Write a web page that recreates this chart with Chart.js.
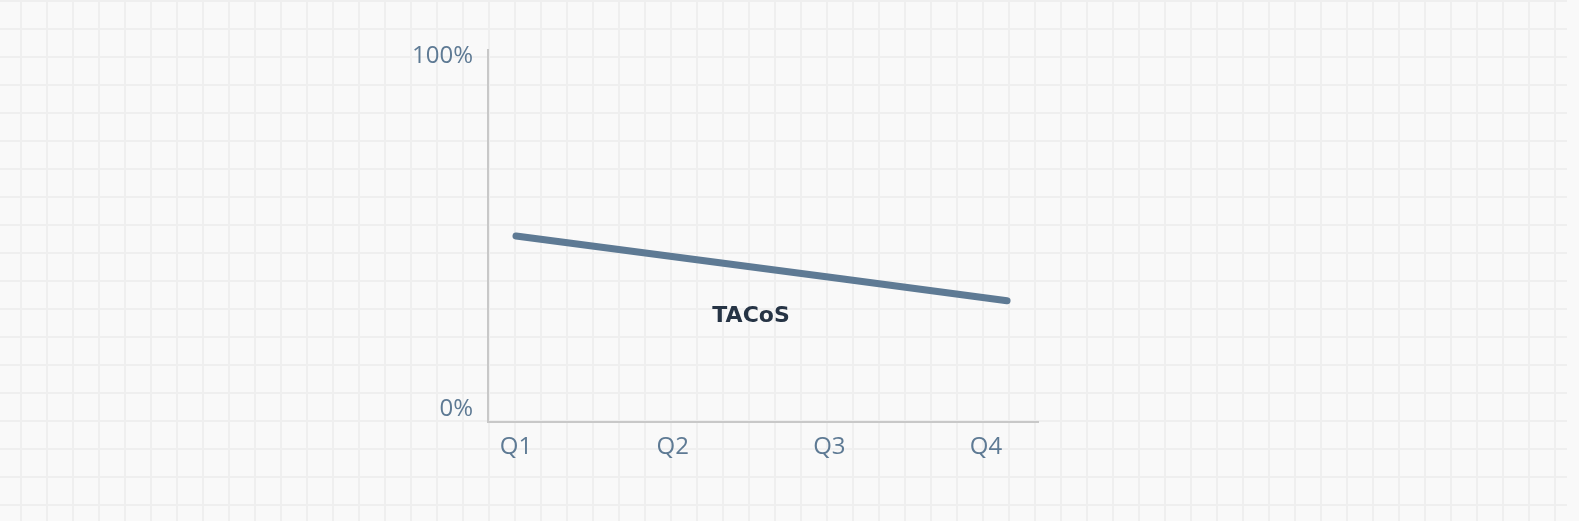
<!DOCTYPE html>
<html>
<head>
<meta charset="utf-8">
<script src="https://cdn.jsdelivr.net/npm/chart.js@4/dist/chart.umd.min.js"></script>
<style>
  html, body { margin: 0; padding: 0; background: #f9f9f9; }
  #grid {
    position: absolute; left: 0; top: 0; width: 1567px; height: 521px;
    background-color: #f9f9f9;
    background-image:
      linear-gradient(to right, #efefef 2px, transparent 2px),
      linear-gradient(to bottom, #efefef 2px, transparent 2px);
    background-size: 26px 28px, 26px 28px;
    background-position: 20px 0, 0 0;
  }
  #wrap { position: absolute; left: 0; top: 0; width: 1579px; height: 521px; }
</style>
</head>
<body>
<div id="grid"></div>
<div id="wrap"><canvas id="chart"></canvas></div>
<script>
const quarters = ["Q1", "Q2", "Q3", "Q4"];
const seriesName = "TACoS";
const tacosValues = [49.1, 43.0, 36.9, 30.7];
const yTicks = [0, 100];

const slate = "#5e7a94";

const seriesLabel = {
  id: "seriesLabel",
  afterDatasetsDraw(chart) {
    const { ctx, scales } = chart;
    const x = (scales.x.getPixelForValue(1) + scales.x.getPixelForValue(2)) / 2;
    const y = scales.y.getPixelForValue(26.4);
    ctx.save();
    ctx.font = "bold 22px 'DejaVu Sans'";
    ctx.fillStyle = "#263445";
    ctx.textAlign = "center";
    ctx.textBaseline = "middle";
    ctx.fillText(chart.data.datasets[0].label, x, y);
    ctx.restore();
  }
};

new Chart(document.getElementById("chart"), {
  type: "line",
  data: {
    datasets: [{
      label: seriesName,
      data: tacosValues.map((v, i) => ({ x: i, y: v })),
      xAxisID: "xLine",
      borderColor: slate,
      borderWidth: 7,
      borderCapStyle: "round",
      borderJoinStyle: "round",
      pointRadius: 0,
      tension: 0,
      fill: false
    }]
  },
  plugins: [seriesLabel],
  options: {
    responsive: true,
    maintainAspectRatio: false,
    animation: false,
    layout: { padding: { top: 50, right: 541, left: 0, bottom: 0 } },
    plugins: {
      legend: { display: false },
      tooltip: { enabled: false }
    },
    scales: {
      x: {
        type: "linear",
        min: -0.179,
        max: 3.332,
        afterBuildTicks: s => { s.ticks = quarters.map((_, i) => ({ value: i })); },
        afterFit: s => { s.height = 99; },
        grid: { display: false, drawTicks: false },
        border: { display: true, color: "#c8c8c8", width: 2 },
        ticks: {
          padding: 11,
          color: slate,
          font: { family: "'Open Sans'", size: 24 },
          callback: v => quarters[v],
          maxRotation: 0
        }
      },
      xLine: {
        type: "linear",
        display: false,
        min: -0.171,
        max: 3.189
      },
      y: {
        min: -3.69,
        max: 101.84,
        afterBuildTicks: s => { s.ticks = yTicks.map(v => ({ value: v })); },
        afterFit: s => { s.width = 488; },
        grid: { display: false, drawTicks: false },
        border: { display: true, color: "#c8c8c8", width: 2 },
        ticks: {
          padding: 15,
          color: slate,
          font: { family: "'Open Sans'", size: 24 },
          callback: v => v + "%"
        }
      }
    }
  }
});
</script>
</body>
</html>
